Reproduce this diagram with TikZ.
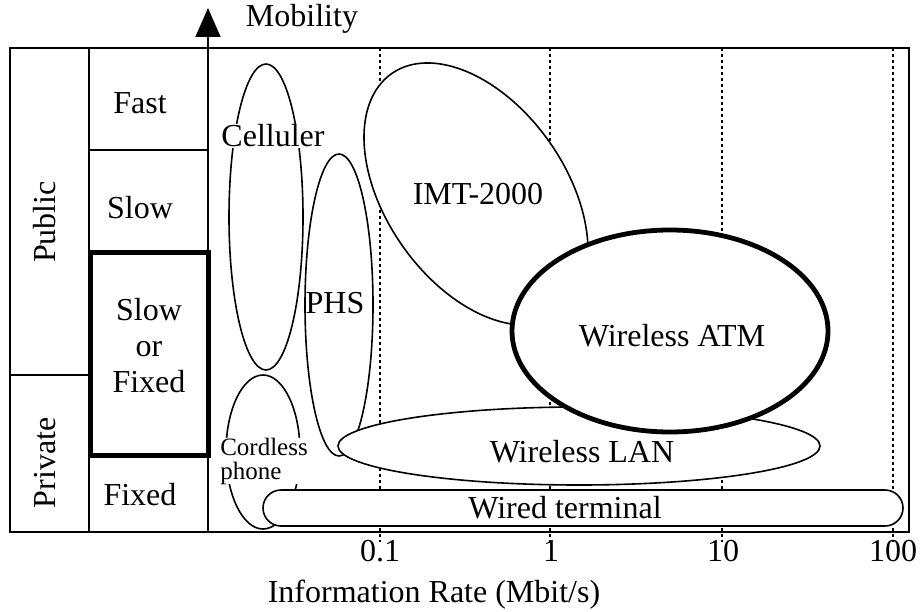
\documentclass[tikz,border=0pt]{standalone}
\usepackage{fontspec}
\setmainfont{Liberation Serif}
\usetikzlibrary{arrows.meta,shapes.geometric}
\begin{document}
\begin{tikzpicture}[x=1pt,y=-1pt,
  lbl/.style={font=\fontsize{32}{36}\selectfont, inner sep=1pt},
  small/.style={font=\fontsize{25}{26}\selectfont, inner sep=1pt},
  oval/.style={ellipse, draw, fill=white, line width=1.6pt, inner sep=0pt},
  gridline/.style={line width=1.8pt, dash pattern=on 3pt off 3pt},
  frame/.style={line width=2pt},
  thin/.style={line width=1.6pt}]
\useasboundingbox (0,0) rectangle (920,612);
% dashed grid
\foreach \xx/\nm in {380/ga,550/gb,722/gc,893/gd}{
  \coordinate (\nm t) at (\xx,48);
  \coordinate (\nm b) at (\xx,542);
  \draw[gridline] (\nm t) -- (\nm b);
}
% ovals
\node[oval, minimum width=74pt, minimum height=306pt] (cell) at (266,217) {};
\node[oval, minimum width=74pt, minimum height=154pt] (cord) at (263,452) {};
\node[oval, minimum width=68pt, minimum height=302pt] (phs) at (339,305) {};
\node[oval, minimum width=294pt, minimum height=180pt, rotate=-55] (imt) at (476,194) {};
\node[oval, minimum width=482pt, minimum height=78pt] (lan) at (579,446) {};
\node[oval, line width=4.8pt, minimum width=316pt, minimum height=202pt] (atm) at (670,331) {};
\node[draw, fill=white, line width=1.6pt, rounded corners=18pt, minimum width=640pt, minimum height=36pt, inner sep=0pt] (wired) at (583,508) {};
% oval labels
\node[lbl, fill=white] (tcell) at (273,136) {Celluler};
\node[small, fill=white, align=left, inner sep=0pt] (tcord) at (264,461) {Cordless\\[-2pt]phone};
\node[lbl] (tphs) at (335,303) {PHS};
\node[lbl] (timt) at (478,194) {IMT-2000};
\node[lbl] (tatm) at (672,336) {Wireless ATM};
\node[lbl] (tlan) at (582,452) {Wireless LAN};
\node[lbl] (twired) at (565,508) {Wired terminal};
% frame and table
\draw[frame] (10,48) rectangle (909,532);
\coordinate (c1t) at (89,48);
\coordinate (c1b) at (89,532);
\draw[thin] (c1t) -- (c1b);
\coordinate (hfa) at (89,150);
\coordinate (hfb) at (208,150);
\draw[thin] (hfa) -- (hfb);
\coordinate (hpa) at (10,375);
\coordinate (hpb) at (89,375);
\draw[thin] (hpa) -- (hpb);
\coordinate (axb) at (208,532);
\coordinate (axt) at (208,8);
\draw[line width=1.8pt, -{Triangle[width=25pt,length=29pt]}] (axb) -- (axt);
\draw[line width=5pt] (90.5,252.5) rectangle (208.5,455.5);
% table labels
\node[lbl] (fast) at (140,103) {Fast};
\node[lbl] (slow) at (140,208) {Slow};
\node[lbl, align=center] (sof) at (149,346) {Slow\\or\\Fixed};
\node[lbl] (fixed) at (140,495) {Fixed};
\node[lbl, rotate=90] (public) at (45,222) {Public};
\node[lbl, rotate=90] (private) at (45,463) {Private};
% axis labels
\node[lbl] (mob) at (302,19) {Mobility};
\node[lbl] (x01) at (380,551) {0.1};
\node[lbl] (x1) at (551,551) {1};
\node[lbl] (x10) at (723,551) {10};
\node[lbl] (x100) at (893,551) {100};
\node[lbl] (xlab) at (434,595) {Information Rate (Mbit/s)};
\end{tikzpicture}
\end{document}
